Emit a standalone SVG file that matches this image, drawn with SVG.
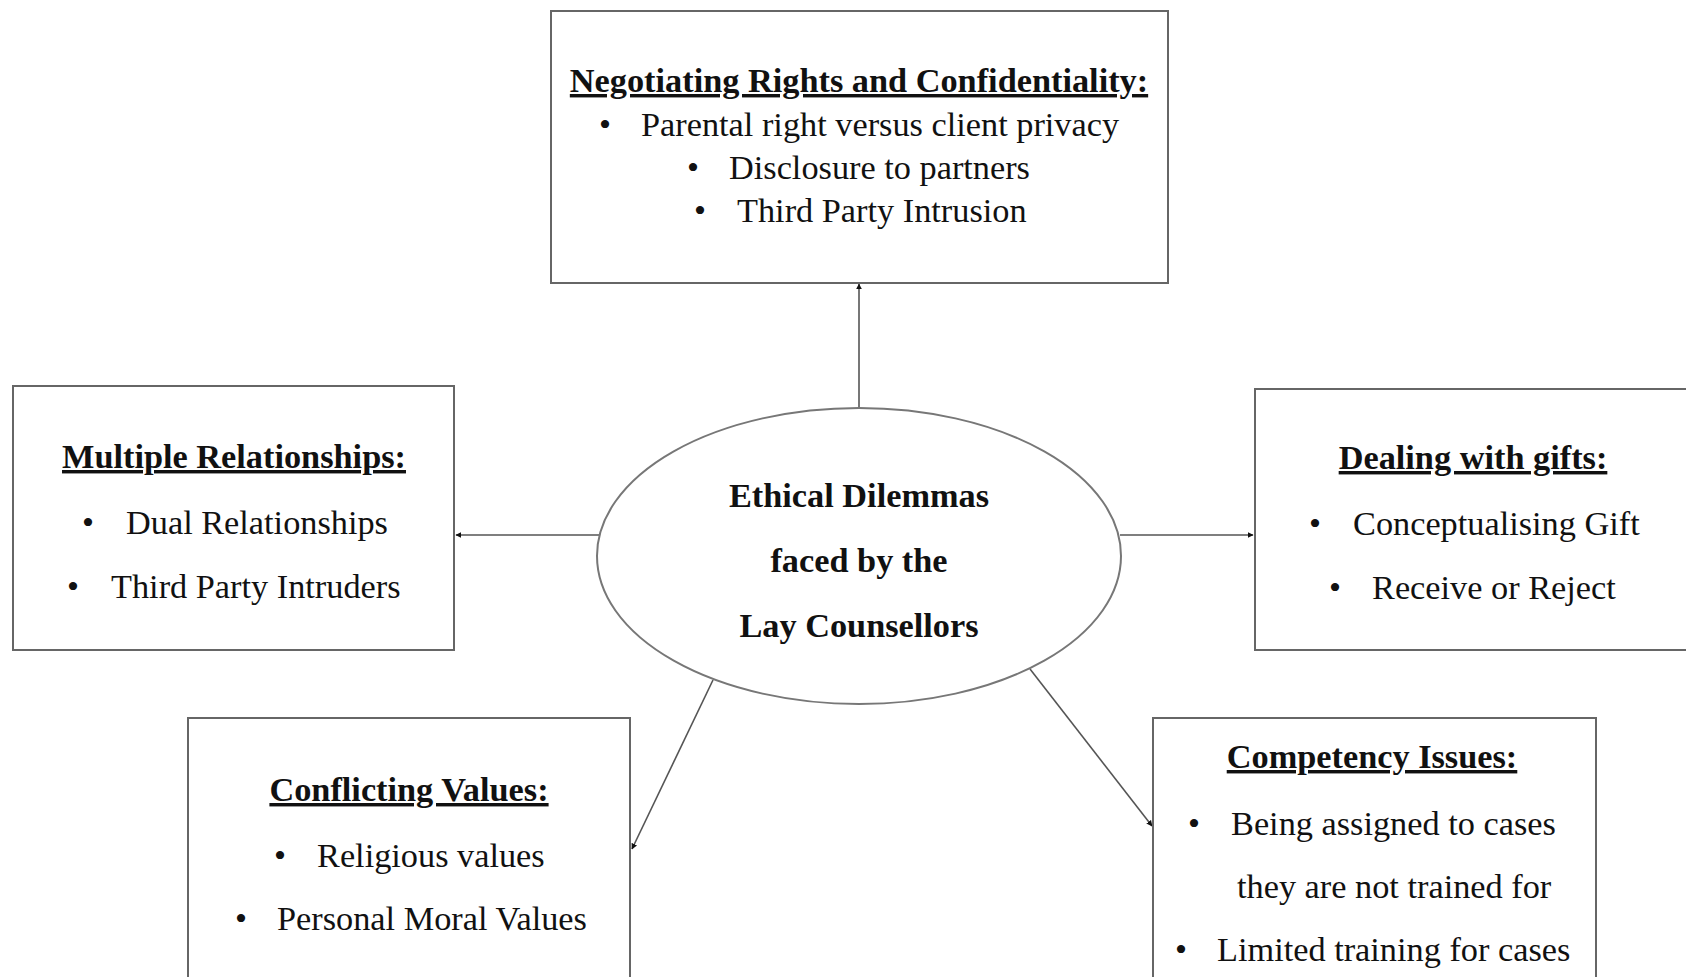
<svg xmlns="http://www.w3.org/2000/svg" width="1686" height="977" viewBox="0 0 1686 977">
<style>
.box{fill:#fff;stroke:#666;stroke-width:2}
.ell{fill:#fff;stroke:#777;stroke-width:2}
.t{font-family:"Liberation Serif","Times New Roman",serif;font-size:34.3px;fill:#111}
.h{font-weight:bold;text-decoration:underline;text-anchor:middle}
.c{font-weight:bold;text-anchor:middle}
.b{text-anchor:middle}
.conn{stroke:#555;stroke-width:1.6;fill:none;marker-end:url(#ah)}
</style>
<defs>
<marker id="ah" viewBox="0 0 10 10" refX="9" refY="5" markerWidth="6" markerHeight="6" orient="auto" markerUnits="userSpaceOnUse">
<path d="M0,0 L10,5 L0,10 z" fill="#111"/>
</marker>
</defs>
<rect width="1686" height="977" fill="#fff"/>
<g id="connectors">
<line class="conn" x1="859" y1="409" x2="859" y2="284"/>
<line class="conn" x1="599" y1="535" x2="456" y2="535"/>
<line class="conn" x1="1120" y1="535" x2="1253" y2="535"/>
<line class="conn" x1="713" y1="680" x2="632" y2="849"/>
<line class="conn" x1="1030" y1="669" x2="1152" y2="826"/>
</g>
<g id="center">
<ellipse class="ell" cx="859" cy="556" rx="262" ry="148"/>
<text class="t c" x="859" y="507">Ethical Dilemmas</text>
<text class="t c" x="859" y="572">faced by the</text>
<text class="t c" x="859" y="637">Lay Counsellors</text>
</g>
<g id="negotiating">
<rect class="box" x="551" y="11" width="617" height="272"/>
<text class="t h" x="859" y="92">Negotiating Rights and Confidentiality:</text>
<text class="t b" x="605" y="136">•</text>
<text class="t" x="641" y="136">Parental right versus client privacy</text>
<text class="t b" x="693" y="179">•</text>
<text class="t" x="729" y="179">Disclosure to partners</text>
<text class="t b" x="700" y="222">•</text>
<text class="t" x="737" y="222">Third Party Intrusion</text>
</g>
<g id="multiple">
<rect class="box" x="13" y="386" width="441" height="264"/>
<text class="t h" x="234" y="468">Multiple Relationships:</text>
<text class="t b" x="88" y="534">•</text>
<text class="t" x="126" y="534">Dual Relationships</text>
<text class="t b" x="73" y="598">•</text>
<text class="t" x="111" y="598">Third Party Intruders</text>
</g>
<g id="gifts">
<rect class="box" x="1255" y="389" width="440" height="261"/>
<text class="t h" x="1473" y="469">Dealing with gifts:</text>
<text class="t b" x="1315" y="535">•</text>
<text class="t" x="1353" y="535">Conceptualising Gift</text>
<text class="t b" x="1335" y="599">•</text>
<text class="t" x="1372" y="599">Receive or Reject</text>
</g>
<g id="conflicting">
<rect class="box" x="188" y="718" width="442" height="270"/>
<text class="t h" x="409" y="801">Conflicting Values:</text>
<text class="t b" x="280" y="867">•</text>
<text class="t" x="317" y="867">Religious  values</text>
<text class="t b" x="241" y="930">•</text>
<text class="t" x="277" y="930">Personal Moral Values</text>
</g>
<g id="competency">
<rect class="box" x="1153" y="718" width="443" height="270"/>
<text class="t h" x="1372" y="768">Competency Issues:</text>
<text class="t b" x="1194" y="835">•</text>
<text class="t" x="1231" y="835">Being assigned to cases</text>
<text class="t" x="1237" y="898">they are not trained for</text>
<text class="t b" x="1181" y="961">•</text>
<text class="t" x="1217" y="961">Limited training for cases</text>
</g>
</svg>
